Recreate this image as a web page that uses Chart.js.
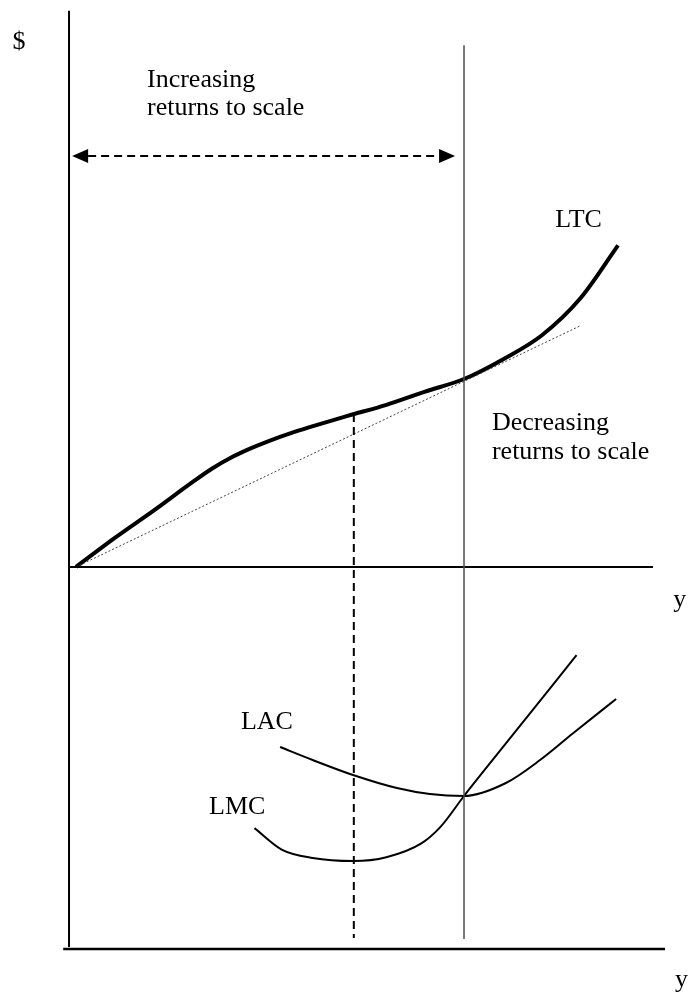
<!DOCTYPE html>
<html>
<head>
<meta charset="utf-8">
<script src="https://cdn.jsdelivr.net/npm/chart.js@4/dist/chart.umd.min.js"></script>
<style>
  body { margin: 0; background: #fff; }
  canvas { display: block; }
</style>
</head>
<body>
<canvas id="canva" width="692" height="1000"></canvas>
<script>
// output levels (y) and cost values
const qLTC = [0, 1, 2, 3, 3.5, 4, 4.5, 5, 5.5, 6, 7, 8, 9, 10, 11, 12, 13, 13.97];
const ltc = [0, 15.5, 30.1, 45.3, 52.5, 58.5, 63.4, 67.6, 71.3, 74.6, 80.8, 86.7, 93.8, 100.5, 111, 123.8, 143.7, 172];

const qRay = [0, 13];
const ray = [0, 129];

const qLAC = [5.26, 6.1, 7.14, 8.27, 9.12, 10, 11.08, 11.96, 12.81, 13.92];
const lac = [13.2, 12.35, 11.37, 10.52, 10.13, 10.0, 10.85, 12.35, 14.1, 16.34];

const qLMC = [4.6, 5.3, 6.1, 7.15, 8.0, 8.9, 9.4, 10, 11.1, 12.9];
const lmc = [7.9, 6.5, 5.95, 5.75, 6.0, 6.9, 8.0, 10, 13.5, 19.2];

const qInflect = 7.16; // min LMC / inflection of LTC
const qMinAC = 10;     // min LAC

const toPts = (xs, ys) => xs.map((v, i) => ({ x: v, y: ys[i] }));

const FONT = '26px "Liberation Serif", "Times New Roman", serif';

const drawings = {
  id: "drawings",
  afterDatasetsDraw(chart) {
    const { ctx } = chart;
    const { x, yT, yB } = chart.scales;
    ctx.save();

    // left vertical axis, spans both panels
    ctx.strokeStyle = "#000";
    ctx.lineWidth = 2;
    ctx.beginPath();
    ctx.moveTo(x.getPixelForValue(-0.18), yT.getPixelForValue(297.5));
    ctx.lineTo(x.getPixelForValue(-0.18), yB.getPixelForValue(0.13));
    ctx.stroke();

    // solid vertical at min LAC
    ctx.strokeStyle = "#4d4d4d";
    ctx.lineWidth = 1.5;
    ctx.beginPath();
    ctx.moveTo(x.getPixelForValue(qMinAC), yT.getPixelForValue(279));
    ctx.lineTo(x.getPixelForValue(qMinAC), yB.getPixelForValue(0.65));
    ctx.stroke();

    // dashed vertical at inflection
    ctx.strokeStyle = "#000";
    ctx.lineWidth = 2;
    ctx.setLineDash([8, 5]);
    ctx.beginPath();
    ctx.moveTo(x.getPixelForValue(qInflect), yT.getPixelForValue(81.8));
    ctx.lineTo(x.getPixelForValue(qInflect), yB.getPixelForValue(0.72));
    ctx.stroke();

    // dashed double arrow
    const ay = yT.getPixelForValue(219.8);
    const ax0 = x.getPixelForValue(-0.1);
    const ax1 = x.getPixelForValue(9.77);
    const head = 16, half = 7;
    ctx.setLineDash([8, 5]);
    ctx.beginPath();
    ctx.moveTo(ax0 + head, ay);
    ctx.lineTo(ax1 - head, ay);
    ctx.stroke();
    ctx.setLineDash([]);
    ctx.fillStyle = "#000";
    ctx.beginPath();
    ctx.moveTo(ax0, ay);
    ctx.lineTo(ax0 + head, ay - half);
    ctx.lineTo(ax0 + head, ay + half);
    ctx.closePath();
    ctx.fill();
    ctx.beginPath();
    ctx.moveTo(ax1, ay);
    ctx.lineTo(ax1 - head, ay - half);
    ctx.lineTo(ax1 - head, ay + half);
    ctx.closePath();
    ctx.fill();

    // labels
    ctx.font = FONT;
    ctx.textBaseline = "middle";
    ctx.textAlign = "center";
    ctx.fillText("$", x.getPixelForValue(-1.47), yT.getPixelForValue(280.7));
    ctx.textAlign = "left";
    const top = [
      ["Increasing", 1.83, 260.4],
      ["returns to scale", 1.83, 245.5],
      ["LTC", 12.35, 185.6],
      ["Decreasing", 10.72, 77.0],
      ["returns to scale", 10.72, 61.5],
      ["y", 15.39, -17.6],
    ];
    top.forEach(([t, q, v]) => ctx.fillText(t, x.getPixelForValue(q), yT.getPixelForValue(v)));
    const bottom = [
      ["LAC", 4.25, 14.84],
      ["LMC", 3.43, 9.28],
      ["y", 15.44, -2.03],
    ];
    bottom.forEach(([t, q, v]) => ctx.fillText(t, x.getPixelForValue(q), yB.getPixelForValue(v)));

    ctx.restore();
  },
};

const line = (data, yAxisID, width, extra = {}) => ({
  data,
  yAxisID,
  showLine: true,
  borderColor: "#000",
  borderWidth: width,
  pointRadius: 0,
  fill: false,
  cubicInterpolationMode: "monotone",
  ...extra,
});

new Chart(document.getElementById("canva").getContext("2d"), {
  type: "scatter",
  data: {
    datasets: [
      line(toPts([-0.2, 14.87], [0, 0]), "yT", 2),
      line(toPts([-0.33, 15.18], [0, 0]), "yB", 2.5),
      line(toPts(qRay, ray), "yT", 1, { borderColor: "#444", borderDash: [2, 2] }),
      line(toPts(qLTC, ltc), "yT", 4),
      line(toPts(qLAC, lac), "yB", 2),
      line(toPts(qLMC, lmc), "yB", 2),
    ],
  },
  options: {
    responsive: false,
    animation: false,
    layout: { padding: 0 },
    plugins: {
      legend: { display: false },
      tooltip: { enabled: false },
    },
    scales: {
      x: { type: "linear", min: -1.9588, max: 15.876, display: false },
      yT: { type: "linear", min: -231.6, max: 303.2, display: false },
      yB: { type: "linear", min: -3.333, max: 62.026, display: false },
    },
  },
  plugins: [drawings],
});
</script>
</body>
</html>
